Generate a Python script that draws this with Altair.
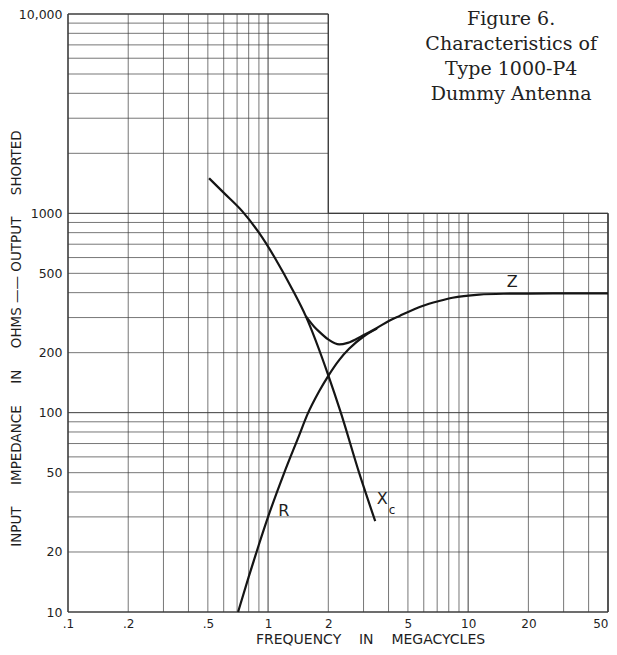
import altair as alt
import pandas as pd

# ---- curve data (frequency in Mc, impedance in ohms) ----
xc_freq = [0.507, 0.603, 0.744, 0.902, 1.093, 1.323, 1.543, 2.0, 2.31, 2.85, 3.43]
xc_ohms = [1500, 1263, 1023, 797, 587, 415, 305, 154, 100, 50, 28.6]

r_freq = [0.708, 0.8, 0.9, 1.0, 1.2, 1.43, 1.573, 1.8, 2.0, 2.27, 2.54, 3.0, 3.5]
r_ohms = [10, 15, 21.8, 30, 49.5, 77, 98, 128, 153, 184, 209, 241, 264]

z_freq = [1.543, 1.7, 1.8, 2.0, 2.27, 2.5, 2.96, 3.5, 4.03, 4.52, 5.91, 7.16, 8.35, 11.35, 15, 20, 30, 50]
z_ohms = [305, 270, 255, 233, 220, 224, 243, 266, 289, 305, 343, 363, 377, 391, 395, 396, 397, 397]

# ---- axis tick labels ----
x_ticks = [0.1, 0.2, 0.5, 1, 2, 5, 10, 20, 50]
y_ticks = [10, 20, 50, 100, 200, 500, 1000, 10000]

# ---- curve labels ----
lab_text = ["R", "Z", "X"]
lab_freq = [1.2, 16.6, 3.72]
lab_ohms = [32, 450, 37]
sub_text = ["c"]
sub_freq = [4.17]
sub_ohms = [32.5]

title_lines = ["Figure 6.", "Characteristics of", "Type 1000-P4", "Dummy Antenna"]
title_pos_freq = [16.4]
title_pos_ohms = [8800]

# ---- grid structure (log paper with a notch above 1000 ohms / 2 Mc) ----
mults = [1, 2, 3, 4, 5, 6, 7, 8, 9]
rows = []
THIN, MID, BORDER = 0.7, 1.0, 1.6
# vertical lines
for d in [0.1, 1, 10]:
    for m in mults:
        xv = round(d * m, 4)
        if xv <= 0.1 or xv > 50:
            continue
        top = 10000 if xv <= 2 else 1000
        w = MID if m == 1 else THIN
        rows.append(dict(x=xv, x2=xv, y=10, y2=top, w=w))
# horizontal lines
for d in [10, 100, 1000]:
    for m in mults:
        yv = d * m
        if yv <= 10:
            continue
        right = 50 if yv <= 1000 else 2
        w = MID if m == 1 else THIN
        rows.append(dict(x=0.1, x2=right, y=yv, y2=yv, w=w))
rows.append(dict(x=2, x2=50, y=1000, y2=1000, w=1.3))
# outline
rows.append(dict(x=0.1, x2=0.1, y=10, y2=10000, w=BORDER))
rows.append(dict(x=0.1, x2=50, y=10, y2=10, w=BORDER))
rows.append(dict(x=50, x2=50, y=10, y2=1000, w=BORDER))
rows.append(dict(x=0.1, x2=2, y=10000, y2=10000, w=BORDER))
rows.append(dict(x=2, x2=2, y=1000, y2=10000, w=1.3))
grid_df = pd.DataFrame(rows)

curves_df = pd.concat([
    pd.DataFrame({"freq": xc_freq, "ohms": xc_ohms, "curve": "Xc"}),
    pd.DataFrame({"freq": r_freq, "ohms": r_ohms, "curve": "R"}),
    pd.DataFrame({"freq": z_freq, "ohms": z_ohms, "curve": "Z"}),
], ignore_index=True)

X_SCALE = alt.Scale(type="log", domain=[0.1, 50], nice=False)
Y_SCALE = alt.Scale(type="log", domain=[10, 10000], nice=False)

LABEL_FONT = "DejaVu Sans"
INK = "#1e1e1e"
SP = "\u00a0"

X_AXIS = alt.Axis(
    values=x_ticks,
    labelExpr="datum.value < 1 ? '.' + round(datum.value * 10) : '' + datum.value",
    grid=False, ticks=False, domain=False,
    labelFont=LABEL_FONT, labelFontSize=12, labelColor=INK, labelPadding=6,
    labelFlush=False, labelOverlap=False,
    labelAlign={"condition": {"test": "datum.value == 50", "value": "right"}, "value": "center"},
    title="FREQUENCY" + SP * 4 + "IN" + SP * 4 + "MEGACYCLES",
    titleFont=LABEL_FONT, titleFontSize=14, titleFontWeight="normal", titleColor=INK,
    titleX=302, titleY=31, titleAlign="center", titleBaseline="alphabetic",
)
Y_AXIS = alt.Axis(
    values=y_ticks,
    labelExpr="datum.value == 10000 ? '10,000' : '' + datum.value",
    grid=False, ticks=False, domain=False,
    labelFont=LABEL_FONT, labelFontSize=12.5, labelColor=INK, labelPadding=6,
    labelFlush=False, labelOverlap=False,
    title="INPUT" + SP * 5 + "IMPEDANCE" + SP * 5 + "IN" + SP * 5 + "OHMS" + SP
          + "\u2014\u2014" + SP + "OUTPUT" + SP * 5 + "SHORTED",
    titleFont=LABEL_FONT, titleFontSize=13.5, titleFontWeight="normal", titleColor=INK,
    titleAngle=270, titleX=-52, titleY=324, titleAlign="center", titleBaseline="middle",
)


def xenc(field):
    return alt.X(field, type="quantitative", scale=X_SCALE, axis=X_AXIS)


def yenc(field):
    return alt.Y(field, type="quantitative", scale=Y_SCALE, axis=Y_AXIS)


grid = alt.Chart(grid_df).mark_rule(color="#3c3c3c").encode(
    x=xenc("x"), x2="x2", y=yenc("y"), y2="y2",
    strokeWidth=alt.StrokeWidth("w:Q", scale=None, legend=None),
)

curves = alt.Chart(curves_df).mark_line(
    interpolate="monotone", color="#151515", strokeWidth=2.2
).encode(
    x=xenc("freq"), y=yenc("ohms"), detail="curve:N",
)

labels = alt.Chart(pd.DataFrame({"freq": lab_freq, "ohms": lab_ohms, "t": lab_text})).mark_text(
    font=LABEL_FONT, fontSize=16, color=INK, align="center", baseline="middle"
).encode(x=xenc("freq"), y=yenc("ohms"), text="t:N")

subs = alt.Chart(pd.DataFrame({"freq": sub_freq, "ohms": sub_ohms, "t": sub_text})).mark_text(
    font=LABEL_FONT, fontSize=12, color=INK, align="center", baseline="middle"
).encode(x=xenc("freq"), y=yenc("ohms"), text="t:N")

heading = alt.Chart(pd.DataFrame({"freq": title_pos_freq, "ohms": title_pos_ohms})).mark_text(
    text=title_lines, lineHeight=25, font="DejaVu Serif", fontSize=19, color="#222",
    align="center", baseline="alphabetic",
).encode(x=xenc("freq"), y=yenc("ohms"))

chart = alt.layer(grid, curves, labels, subs, heading).properties(
    width=540, height=598,
    padding={"left": 60, "top": 6, "right": 1, "bottom": 35},
    autosize=alt.AutoSizeParams(type="none"),
    background="white",
).configure_view(stroke=None)

chart.save("out.html", embed_options={"renderer": "svg", "actions": False})
